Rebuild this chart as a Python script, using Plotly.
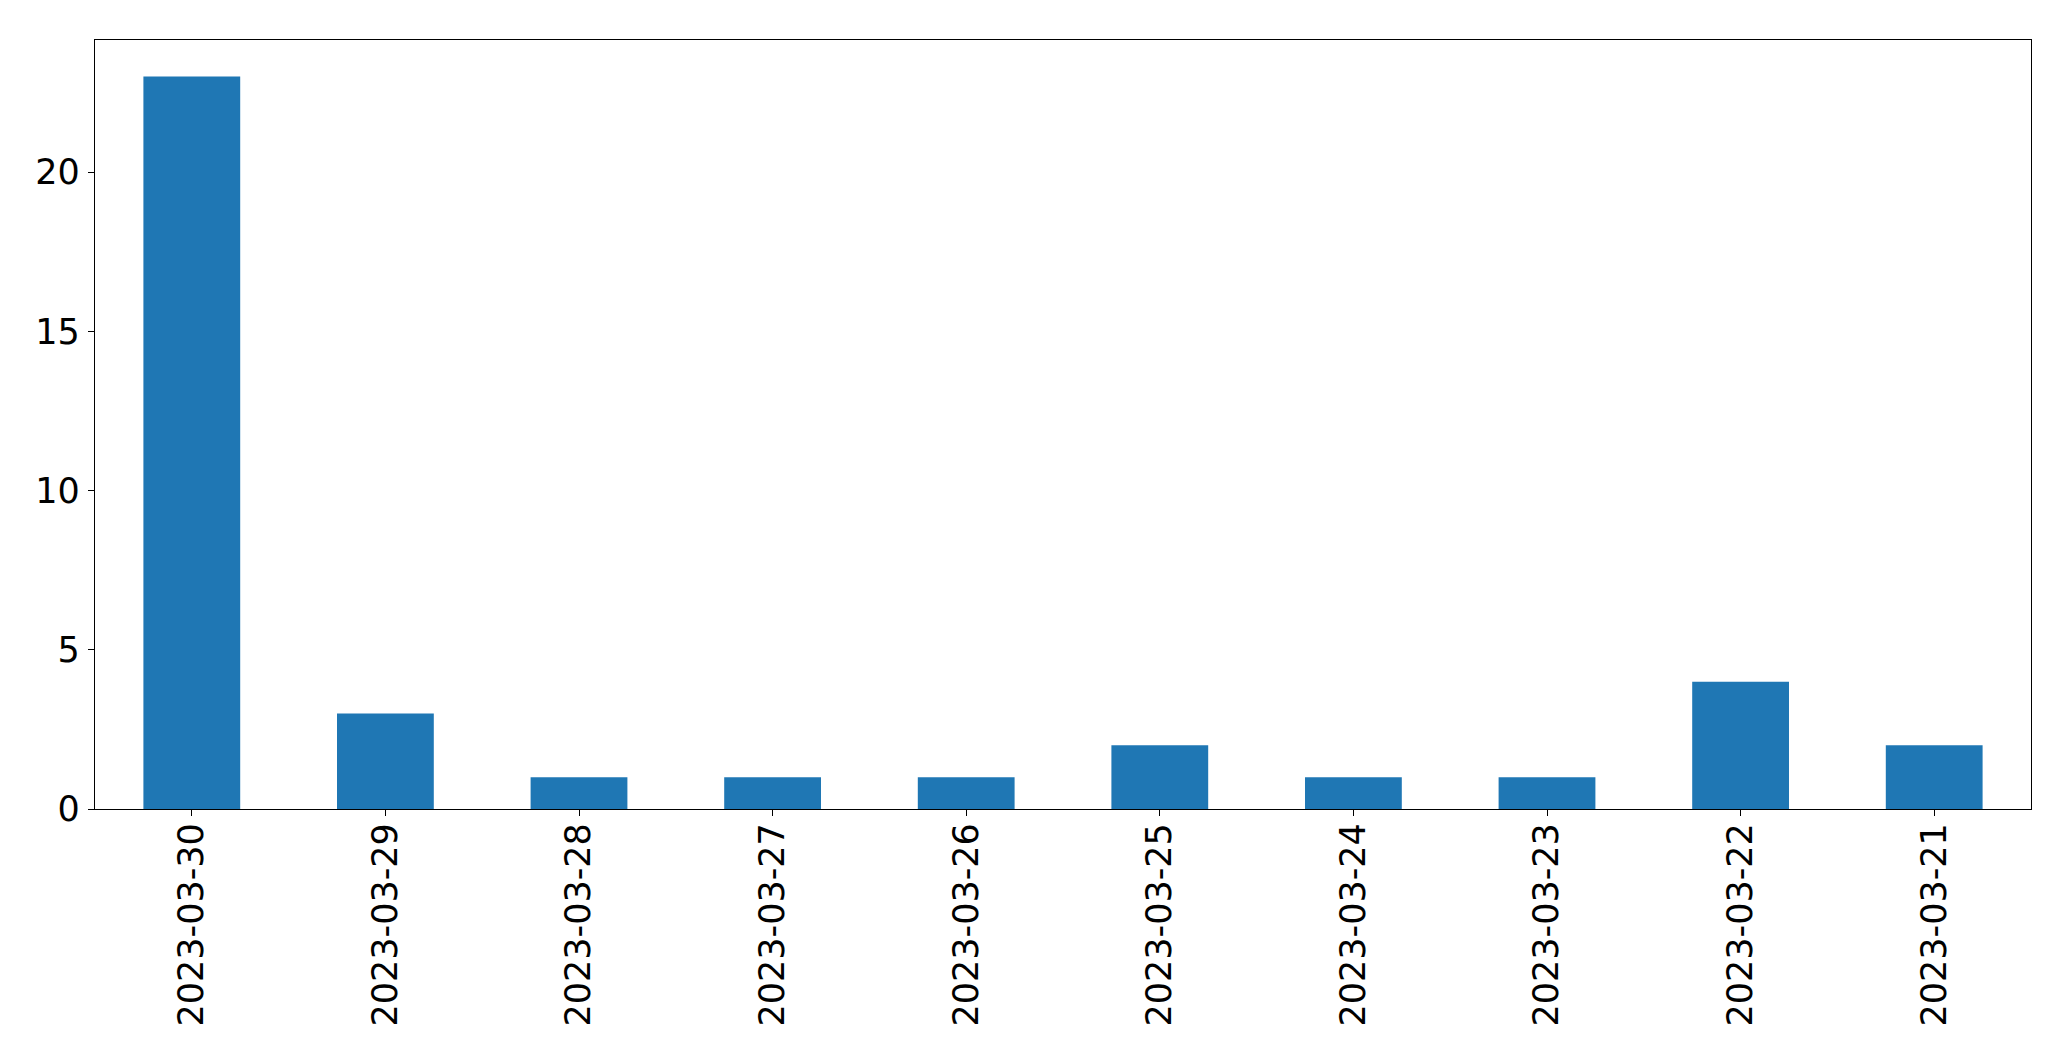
import plotly.graph_objects as go

dates = ["2023-03-30", "2023-03-29", "2023-03-28", "2023-03-27", "2023-03-26",
         "2023-03-25", "2023-03-24", "2023-03-23", "2023-03-22", "2023-03-21"]
counts = [23, 3, 1, 1, 1, 2, 1, 1, 4, 2]
y_ticks = [0, 5, 10, 15, 20]

fig = go.Figure(go.Bar(x=dates, y=counts, marker_color="#1f77b4",
                       marker_line_width=0, width=0.5))

font = dict(family="DejaVu Sans", size=35, color="black")
fig.update_layout(
    width=2071, height=1061,
    margin=dict(l=94.5, r=39.5, t=39.5, b=252, pad=0),
    paper_bgcolor="white", plot_bgcolor="white",
    font=font, showlegend=False, bargap=0.5,
)
fig.update_xaxes(
    type="category", range=[-0.5, 9.5], tickangle=-90,
    showline=True, linecolor="black", linewidth=1.3, mirror=True,
    ticks="outside", ticklen=6, tickwidth=1.3, tickcolor="black",
    showgrid=False, zeroline=False, tickfont=font, ticklabelstandoff=-7,
)
fig.update_yaxes(
    range=[0, 24.15], tickvals=y_ticks,
    showline=True, linecolor="black", linewidth=1.3, mirror=True,
    ticks="outside", ticklen=6, tickwidth=1.3, tickcolor="black",
    showgrid=False, zeroline=False, tickfont=font, ticklabelstandoff=1,
)
fig.write_html("out.html")
